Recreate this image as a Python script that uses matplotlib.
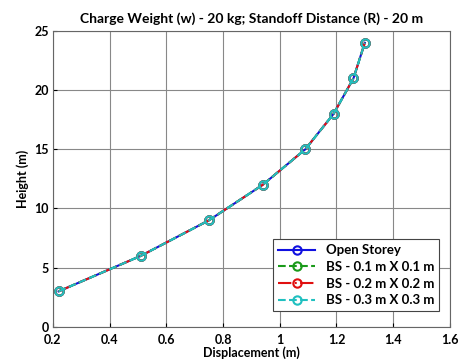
import matplotlib.pyplot as plt

plt.rcParams['font.family'] = ['Lato', 'DejaVu Sans']
plt.rcParams['font.weight'] = 'bold'

# displacement (m) at each storey height (m)
height = [3, 6, 9, 12, 15, 18, 21, 24]
open_storey = [0.22, 0.51, 0.75, 0.94, 1.09, 1.19, 1.26, 1.30]
bs_01 = [0.22, 0.51, 0.75, 0.94, 1.09, 1.19, 1.26, 1.30]
bs_02 = [0.22, 0.51, 0.75, 0.94, 1.09, 1.19, 1.26, 1.30]
bs_03 = [0.22, 0.51, 0.75, 0.94, 1.09, 1.19, 1.26, 1.30]

labels = ['Open Storey', 'BS - 0.1 m X 0.1 m', 'BS - 0.2 m X 0.2 m', 'BS - 0.3 m X 0.3 m']
series = [open_storey, bs_01, bs_02, bs_03]
colors = ['#1010e0', '#1a9a1a', '#e01010', '#20c0c0']
styles = ['-', '--', '-.', '--']

fig = plt.figure(figsize=(4.6, 3.64), dpi=100)
ax = fig.add_axes([0.115, 0.102, 0.863, 0.813])

for vals, lab, c, ls in zip(series, labels, colors, styles):
    ax.plot(vals, height, ls, color=c, lw=1.5, marker='o', ms=6,
            mfc='none', mew=1.5, label=lab)

ax.set_xlim(0.2, 1.6)
ax.set_ylim(0, 25)
ax.set_xticks([0.2, 0.4, 0.6, 0.8, 1.0, 1.2, 1.4, 1.6])
ax.set_xticklabels(['0.2', '0.4', '0.6', '0.8', '1', '1.2', '1.4', '1.6'])
ax.set_yticks([0, 5, 10, 15, 20, 25])
ax.tick_params(direction='in', length=3, labelsize=9)
ax.tick_params(axis='x', pad=5)
ax.tick_params(axis='y', pad=3)
ax.grid(True, color='#888888', lw=0.8)
for s in ax.spines.values():
    s.set_color('#666666')
    s.set_linewidth(0.8)

ax.set_title('Charge Weight (w) - 20 kg; Standoff Distance (R) - 20 m',
             fontsize=10, fontweight='bold', pad=6)
ax.set_xlabel('Displacement (m)', fontsize=9, fontweight='bold', labelpad=0)
ax.set_ylabel('Height (m)', fontsize=9, fontweight='bold', labelpad=4)

leg = ax.legend(loc='lower right', fontsize=9.5, fancybox=False, framealpha=1,
                edgecolor='#444444', handlelength=2.8, borderpad=0.4,
                labelspacing=0.35, bbox_to_anchor=(0.99, 0.03))
leg.get_frame().set_linewidth(0.8)

fig.savefig('out.png', dpi=100, facecolor='white')
